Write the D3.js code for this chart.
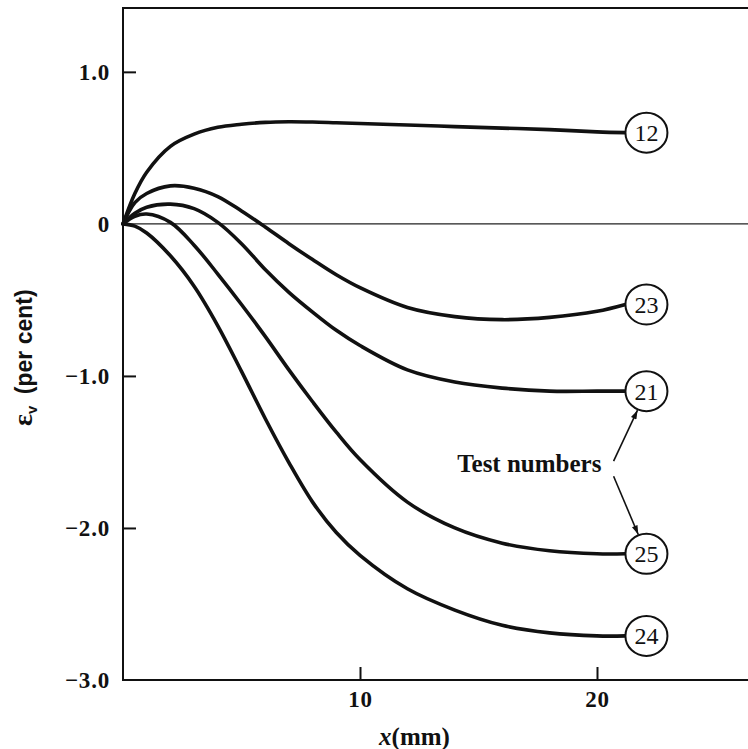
<!DOCTYPE html>
<html>
<head>
<meta charset="utf-8">
<script src="https://cdnjs.cloudflare.com/ajax/libs/d3/7.8.5/d3.min.js"></script>
<style>
    html, body { margin: 0; padding: 0; background: #fff; overflow: hidden; }
    svg { display: block; }
</style>
</head>
<body>
<div id="chart"></div>
<script>
// distance along the specimen, mm
var xValues = [0, 0.5, 1, 2, 3, 4, 5, 6, 7, 8, 9, 10, 12, 14, 16, 18, 20, 21.2];

// volumetric strain, per cent, one list per test
var test12 = [0, 0.20, 0.34, 0.51, 0.59, 0.635, 0.655, 0.668, 0.672, 0.67, 0.665, 0.66, 0.65, 0.64, 0.63, 0.62, 0.605, 0.60];
var test23 = [0, 0.14, 0.20, 0.25, 0.235, 0.18, 0.085, -0.02, -0.13, -0.235, -0.335, -0.42, -0.55, -0.61, -0.63, -0.615, -0.575, -0.53];
var test21 = [0, 0.07, 0.11, 0.13, 0.10, 0.01, -0.13, -0.30, -0.45, -0.58, -0.70, -0.80, -0.96, -1.04, -1.08, -1.10, -1.10, -1.10];
var test25 = [0, 0.05, 0.065, 0.01, -0.14, -0.33, -0.53, -0.74, -0.96, -1.17, -1.37, -1.55, -1.83, -2.00, -2.10, -2.15, -2.17, -2.17];
var test24 = [0, -0.015, -0.06, -0.21, -0.41, -0.67, -0.97, -1.28, -1.57, -1.83, -2.03, -2.18, -2.40, -2.54, -2.64, -2.69, -2.71, -2.71];

var testNames = ['12', '23', '21', '25', '24'];
var testSeries = [test12, test23, test21, test25, test24];

var xTicks = [10, 20];
var yTicks = [1, 0, -1, -2, -3];

// tests pointed at by the "Test numbers" note
var notedTests = ['21', '25'];

(function () {
    'use strict';

    var width = 748;
    var height = 749;

    var plotLeft = 123;
    var plotTop = 8;
    var plotBottom = 680;
    var pxPerMm = 23.7;
    var xMax = 27;

    var circleRadius = 21;
    var serif = '"Liberation Serif", "Times New Roman", serif';
    var sans = '"Liberation Sans", Arial, sans-serif';

    var x = d3.scaleLinear()
        .domain([0, xMax])
        .range([plotLeft, plotLeft + xMax * pxPerMm]);

    var y = d3.scaleLinear()
        .domain([-3, 1.42])
        .range([plotBottom, plotTop]);

    var svg = d3.select('#chart')
        .append('svg')
        .attr('width', width)
        .attr('height', height);

    drawFrame();
    drawAxes();
    drawCurves();
    drawNote();

    function drawFrame() {
        // left, top and bottom borders; right side runs off the page
        svg.append('path')
            .attr('d', 'M' + x(xMax) + ',' + y.range()[1] +
                'H' + x(0) + 'V' + y.range()[0] + 'H' + x(xMax))
            .attr('fill', 'none')
            .attr('stroke', '#111')
            .attr('stroke-width', 2);

        svg.append('line')
            .attr('x1', x(0))
            .attr('x2', x(xMax))
            .attr('y1', y(0))
            .attr('y2', y(0))
            .attr('stroke', '#222')
            .attr('stroke-width', 1.4);
    }

    function styleTickText(sel) {
        sel.attr('font-family', serif)
            .attr('font-weight', 'bold')
            .attr('font-size', 23)
            .attr('letter-spacing', 0.8)
            .attr('fill', '#111');
    }

    function drawAxes() {
        var yAxis = d3.axisLeft(y)
            .tickValues(yTicks)
            .tickSizeInner(-13)
            .tickSizeOuter(0)
            .tickFormat(function (d) {
                return d === 0 ? '0' : d3.format('.1f')(d);
            });

        var gy = svg.append('g')
            .attr('transform', 'translate(' + x(0) + ',0)')
            .call(yAxis);
        gy.select('.domain').remove();
        gy.selectAll('.tick line')
            .attr('stroke', '#111')
            .attr('stroke-width', 2)
            .filter(function (d) { return d === 0 || d === -3; })
            .remove();
        gy.selectAll('.tick text')
            .attr('x', -13)
            .call(styleTickText);

        var xAxis = d3.axisBottom(x)
            .tickValues(xTicks)
            .tickSizeInner(-13)
            .tickSizeOuter(0)
            .tickFormat(d3.format('d'));

        var gx = svg.append('g')
            .attr('transform', 'translate(0,' + y(-3) + ')')
            .call(xAxis);
        gx.select('.domain').remove();
        gx.selectAll('.tick line')
            .attr('stroke', '#111')
            .attr('stroke-width', 2);
        gx.selectAll('.tick text')
            .attr('y', 11)
            .call(styleTickText);

        var xLabel = svg.append('text')
            .attr('x', x(12.3))
            .attr('y', 745)
            .attr('text-anchor', 'middle')
            .attr('font-family', serif)
            .attr('font-weight', 'bold')
            .attr('font-size', 25)
            .attr('fill', '#111');
        xLabel.append('tspan').attr('font-style', 'italic').text('x');
        xLabel.append('tspan').text('(mm)');

        var yLabel = svg.append('text')
            .attr('transform', 'translate(32,' + y(-0.88) + ') rotate(-90)')
            .attr('text-anchor', 'middle')
            .attr('font-family', sans)
            .attr('font-weight', 'bold')
            .attr('font-size', 23)
            .attr('fill', '#111');
        yLabel.append('tspan').attr('font-family', serif).attr('font-size', 28).text('\u03b5');
        yLabel.append('tspan').attr('font-size', 15).attr('dy', 5).text('v');
        yLabel.append('tspan').attr('dy', -5).text('\u2002(per cent)');
    }

    function drawCurves() {
        var line = d3.line()
            .x(function (d) { return x(d[0]); })
            .y(function (d) { return y(d[1]); })
            .curve(d3.curveCatmullRom.alpha(0.5));

        var tests = testNames.map(function (name, i) {
            return {
                name: name,
                points: xValues.map(function (xv, j) { return [xv, testSeries[i][j]]; })
            };
        });

        svg.append('g')
            .selectAll('path')
            .data(tests)
            .join('path')
            .attr('d', function (d) { return line(d.points); })
            .attr('fill', 'none')
            .attr('stroke', '#111')
            .attr('stroke-width', 3.6)
            .attr('stroke-linecap', 'round');

        var tags = svg.append('g')
            .selectAll('g')
            .data(tests)
            .join('g')
            .attr('transform', function (d) {
                var last = d.points[d.points.length - 1];
                return 'translate(' + (x(last[0]) + circleRadius) + ',' + y(last[1]) + ')';
            });

        tags.append('ellipse')
            .attr('rx', circleRadius)
            .attr('ry', circleRadius - 1)
            .attr('fill', '#fff')
            .attr('stroke', '#111')
            .attr('stroke-width', 2);

        tags.append('text')
            .attr('text-anchor', 'middle')
            .attr('dy', '0.35em')
            .attr('font-family', serif)
            .attr('font-size', 24)
            .attr('fill', '#111')
            .text(function (d) { return d.name; });
    }

    function drawNote() {
        svg.append('defs')
            .append('marker')
            .attr('id', 'arrowhead')
            .attr('viewBox', '0 -4 12 8')
            .attr('refX', 12)
            .attr('refY', 0)
            .attr('markerWidth', 13)
            .attr('markerHeight', 6)
            .attr('markerUnits', 'userSpaceOnUse')
            .attr('orient', 'auto')
            .append('path')
            .attr('d', 'M0,-4L12,0L0,4Z')
            .attr('fill', '#111');

        svg.append('text')
            .attr('x', x(14.1))
            .attr('y', y(-1.63))
            .attr('font-family', serif)
            .attr('font-weight', 'bold')
            .attr('font-size', 25)
            .attr('fill', '#111')
            .text('Test numbers');

        var lastX = xValues[xValues.length - 1];
        var starts = [[x(20.7), y(-1.56)], [x(20.7), y(-1.66)]];

        notedTests.forEach(function (name, i) {
            var series = testSeries[testNames.indexOf(name)];
            var cx = x(lastX) + circleRadius;
            var cy = y(series[series.length - 1]);
            var sx = starts[i][0];
            var sy = starts[i][1];
            var dx = cx - sx;
            var dy = cy - sy;
            var len = Math.sqrt(dx * dx + dy * dy);
            var k = (len - circleRadius) / len;

            svg.append('line')
                .attr('x1', sx)
                .attr('y1', sy)
                .attr('x2', sx + dx * k)
                .attr('y2', sy + dy * k)
                .attr('stroke', '#111')
                .attr('stroke-width', 1.6)
                .attr('marker-end', 'url(#arrowhead)');
        });
    }

}());
</script>
</body>
</html>
